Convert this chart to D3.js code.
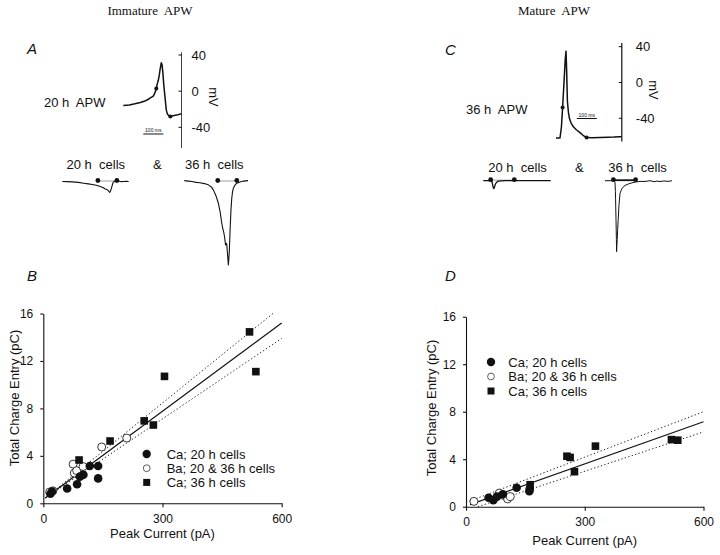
<!DOCTYPE html>
<html><head><meta charset="utf-8">
<script src="https://cdn.jsdelivr.net/npm/d3@7/dist/d3.min.js"></script>
<style>
html,body{margin:0;padding:0;background:#fff;}
svg{display:block;}
text{font-family:"Liberation Sans",Arial,Helvetica,sans-serif;fill:#111;white-space:pre;}
</style></head>
<body>
<svg id="fig" width="720" height="555"></svg>
<script>
// ---------------- DATA ----------------
const titles = ["Immature  APW", "Mature  APW"];
const panelLetters = ["A", "B", "C", "D"];
const voltTicks = [40, 0, -40];
const xTicks = [0, 300, 600];
const yTicks = [0, 4, 8, 12, 16];
const legendLabels = ["Ca; 20 h cells", "Ba; 20 & 36 h cells", "Ca; 36 h cells"];
const traceLabels = ["20 h  cells", "&", "36 h  cells"];
const xTitle = "Peak Current (pA)";
const yTitle = "Total Charge Entry (pC)";

// Action potential waveforms (time ms, mV)
const apImmature = [[0,-16],[30,-15.3],[58,-14],[85,-12.5],[108,-11],[125,-9],[135,-7.5],[150,-5.5],[158,-2],[165,3],[170,8],[175,12],[180,18],[185,25.6],[190,31.5],[194,29],[198,20],[202,8],[205,1],[210,-10],[215,-21],[220,-25],[225,-26.5],[235,-28],[245,-27.5],[255,-27],[265,-26.5],[275,-26],[290,-25]];
const apImmatureDots = [[165,3],[235,-28]];
const apMature = [[0,-62],[20,-62],[27,-50],[33,-28],[40,0],[46,25],[50,35],[53,15],[57,-21],[62,-33],[67,-40],[75,-45],[87,-49.5],[100,-52.5],[120,-56],[135,-59],[153,-61.5],[180,-61.8],[220,-61.5],[260,-61.2],[290,-61],[317,-60.6],[329,-60.5]];
const apMatureDots = [[33,-28],[153,-61.5]];

// Current traces (time ms, normalized current)
const curA20 = [[0,0],[25,-0.002],[50,-0.004],[80,-0.01],[107,-0.02],[130,-0.028],[150,-0.035],[170,-0.045],[190,-0.06],[205,-0.075],[215,-0.09],[225,-0.1],[232,-0.115],[237,-0.13],[240,-0.12],[243,-0.1],[248,-0.06],[252,-0.025],[256,-0.005],[265,0.004],[280,0.005],[295,-0.002],[305,0],[318,0.003],[332,0]];
const curA20Dots = [178, 273];
const curA36 = [[0,0.01],[20,0.005],[38,0],[60,-0.01],[78,-0.015],[100,-0.025],[120,-0.04],[135,-0.065],[145,-0.1],[158,-0.17],[170,-0.26],[180,-0.38],[187,-0.5],[193,-0.57],[198,-0.62],[203,-0.7],[206,-0.76],[209,-0.74],[212,-0.75],[216,-0.88],[220,-1.0],[223,-0.9],[225,-0.82],[228,-0.62],[231,-0.45],[233,-0.34],[237,-0.2],[241,-0.12],[245,-0.08],[252,-0.045],[262,-0.02],[278,-0.005],[295,0.005],[318,0.01]];
const curA36Dots = [167, 262];
const curC20 = [[0,0],[20,0],[37,0],[43,-0.01],[46,-0.05],[50,-0.1],[53,-0.11],[56,-0.09],[60,-0.05],[66,-0.025],[72,-0.01],[78,-0.005],[108,0],[155,0],[200,0.002],[250,0],[300,0.002],[337,0]];
const curC20Dots = [37, 155];
const curC36 = [[0,0],[20,0],[42,0],[50,-0.02],[52,-0.15],[53,-0.27],[55,-0.55],[57,-0.83],[58,-1.0],[59,-0.93],[61,-0.83],[63,-0.7],[66,-0.55],[70,-0.34],[75,-0.18],[83,-0.12],[92,-0.085],[105,-0.06],[117,-0.046],[135,-0.03],[150,-0.02],[175,-0.01],[200,-0.01],[225,0],[245,-0.015],[260,-0.005],[275,-0.012],[295,-0.003],[315,-0.01],[335,0]];
const curC36Dots = [42, 153];

// Scatter B (Immature APW): [peak current pA, total charge pC]
const bCa20 = [[18,0.8],[22,1.0],[60,1.25],[85,1.6],[92,2.25],[101,2.4],[117,3.15],[138,3.15],[138,2.1]];
const bBa = [[16,0.95],[24,1.05],[75,3.3],[78,2.55],[84,2.75],[100,3.1],[147,4.75],[210,5.5]];
const bCa36 = [[90,3.65],[168,5.25],[254,6.95],[277,6.6],[305,10.7],[519,14.45],[535,11.1]];
const bFitSolid = [[5,0.45],[600,15.2]];
const bFitUpper = [[5,0.45],[578,16]];
const bFitLower = [[5,0.45],[600,13.9]];

// Scatter D (Mature APW)
const dCa20 = [[57,0.75],[69,0.55],[78,0.85],[93,1.05],[128,1.6],[160,1.3],[161,1.5]];
const dBa = [[20,0.45],[84,1.15],[95,0.95],[105,0.65],[112,0.85]];
const dCa36 = [[162,1.85],[255,4.25],[263,4.15],[274,2.95],[327,5.1],[519,5.65],[535,5.6]];
const dFitSolid = [[10,0.17],[600,7.15]];
const dFitUpper = [[0,0.35],[600,8.0]];
const dFitLower = [[30,0.0],[600,6.3]];

// ---------------- DRAW ----------------
const svg = d3.select("#fig");
const ink = "#111";

// Titles
[[titles[0],150],[titles[1],554]].forEach(([t,x])=>{
  svg.append("text").attr("x", x).attr("y", 15).attr("text-anchor","middle")
    .style("font-family","'Liberation Serif','Times New Roman',serif").style("font-size","13px").text(t);
});

// Panel letters
const letterPos = [[27,54],[27,281],[445,55],[445,281]];
panelLetters.forEach((l,i)=>{
  svg.append("text").attr("x", letterPos[i][0]).attr("y", letterPos[i][1])
    .style("font-style","italic").style("font-size","15px").text(l);
});

// ---- Action potential panels ----
function apPanel(cfg){
  const x = d3.scaleLinear().domain(cfg.tDomain).range(cfg.xRange);
  const y = d3.scaleLinear().domain([-40,40]).range(cfg.yRange);
  const line = d3.line().x(d=>x(d[0])).y(d=>y(d[1]));
  svg.append("path").attr("d", line(cfg.data)).attr("fill","none")
    .attr("stroke", ink).attr("stroke-width", 1.5).attr("stroke-linejoin","round");
  svg.selectAll(null).data(cfg.dots).enter().append("circle")
    .attr("cx", d=>x(d[0])).attr("cy", d=>y(d[1])).attr("r", 2).attr("fill", ink);
  const g = svg.append("g").attr("transform", `translate(${cfg.axisX},0)`);
  g.append("line").attr("x1",0).attr("x2",0).attr("y1", y(cfg.axisTop)).attr("y2", y(cfg.axisBottom))
    .attr("stroke", ink).attr("stroke-width", cfg.axisW);
  voltTicks.forEach(v=>{
    g.append("line").attr("x1",-3).attr("x2",0).attr("y1",y(v)).attr("y2",y(v)).attr("stroke",ink).attr("stroke-width",1);
    g.append("text").attr("x", cfg.labelDx).attr("y", y(v)).attr("dy","0.35em")
      .style("font-size","13px").text(v);
  });
  svg.append("text").attr("transform", `translate(${cfg.mvX},${cfg.mvY}) rotate(90)`)
    .attr("text-anchor","middle").attr("dy","0.35em").style("font-size","13px").text("mV");
  svg.append("text").attr("x", cfg.labelX).attr("y", cfg.labelY).style("font-size","13px").text(cfg.label);
  const sb = cfg.scaleBar;
  svg.append("line").attr("x1", x(sb.t0)).attr("x2", x(sb.t0+100)).attr("y1", sb.y).attr("y2", sb.y)
    .attr("stroke", ink).attr("stroke-width", 1);
  svg.append("text").attr("x", (x(sb.t0)+x(sb.t0+100))/2).attr("y", sb.y-2).attr("text-anchor","middle")
    .style("font-size","5px").text("100 ms");
}

apPanel({data: apImmature, dots: apImmatureDots, tDomain:[0,290], xRange:[123.3,181.3], yRange:[127.3,55],
  axisX: 181.5, axisTop: 43, axisBottom: -63, axisW: 0.8, labelDx: 10, mvX: 214, mvY: 97,
  label: "20 h  APW", labelX: 44, labelY: 107, scaleBar: {t0: 100, y: 134}});
apPanel({data: apMature, dots: apMatureDots, tDomain:[0,329], xRange:[556,621.8], yRange:[118.3,46.7],
  axisX: 621.8, axisTop: 44, axisBottom: -66, axisW: 1.2, labelDx: 14, mvX: 654, mvY: 90,
  label: "36 h  APW", labelX: 466, labelY: 114, scaleBar: {t0: 104, y: 118.5}});

// ---- Current traces ----
function currentTrace(cfg){
  const x = d3.scaleLinear().domain([0, cfg.tMax]).range(cfg.xRange);
  const y = d3.scaleLinear().domain([-1, 0]).range(cfg.yRange);
  const line = d3.line().x(d=>x(d[0])).y(d=>y(d[1]));
  svg.append("line").attr("x1", x(cfg.dots[0])).attr("x2", x(cfg.dots[1]))
    .attr("y1", y(0)-0.5).attr("y2", y(0)-0.5)
    .attr("stroke", cfg.boldBase ? ink : "#888").attr("stroke-width", cfg.boldBase ? 1.8 : 0.8);
  svg.append("path").attr("d", line(cfg.data)).attr("fill","none").attr("stroke", ink)
    .attr("stroke-width", cfg.w || 1.1).attr("stroke-linejoin","round");
  svg.selectAll(null).data(cfg.dots).enter().append("circle")
    .attr("cx", d=>x(d)).attr("cy", y(0)-1).attr("r", 2.4).attr("fill", ink);
}
currentTrace({data: curA20, dots: curA20Dots, tMax: 332, xRange:[62.3,128.7], yRange:[265,181.5]});
currentTrace({data: curA36, dots: curA36Dots, tMax: 318, xRange:[184.3,248], yRange:[265,181.5]});
currentTrace({data: curC20, dots: curC20Dots, tMax: 337, xRange:[483.3,550.7], yRange:[251.7,180.7], w: 1.3});
currentTrace({data: curC36, dots: curC36Dots, tMax: 335, xRange:[605,672], yRange:[251.7,180.7], boldBase: true, w: 1});

// trace labels
function traceLabelRow(xs, yBase){
  traceLabels.forEach((t,i)=>{
    svg.append("text").attr("x", xs[i]).attr("y", yBase).style("font-size","13px").text(t);
  });
}
traceLabelRow([66.5, 153, 185], 168.5);
traceLabelRow([488.3, 575, 608.3], 171.5);

// ---- Scatter panels ----
function scatter(cfg){
  const x = d3.scaleLinear().domain([0,600]).range([cfg.left, cfg.right]);
  const y = d3.scaleLinear().domain([0,16]).range([cfg.bottom, cfg.top]);
  const g = svg.append("g");
  const xa = g.append("g").attr("transform",`translate(0,${cfg.bottom})`)
    .call(d3.axisBottom(x).tickValues(xTicks).tickSize(4).tickPadding(7).tickSizeOuter(0));
  const ya = g.append("g").attr("transform",`translate(${cfg.left},0)`)
    .call(d3.axisLeft(y).tickValues(yTicks).tickSize(3).tickPadding(7).tickSizeOuter(0));
  [xa,ya].forEach(a=>{
    a.selectAll("text").style("font-size","12px").style("font-family","'Liberation Sans',Arial,sans-serif").attr("fill",ink);
    a.selectAll("line,path").attr("stroke", ink).attr("stroke-width", 1.1);
  });
  const ln = d3.line().x(d=>x(d[0])).y(d=>y(d[1]));
  g.append("path").attr("d", ln(cfg.upper)).attr("stroke","#222").attr("stroke-width",1)
    .attr("stroke-dasharray","1.3,2.3").attr("fill","none");
  g.append("path").attr("d", ln(cfg.lower)).attr("stroke","#222").attr("stroke-width",1)
    .attr("stroke-dasharray","1.3,2.3").attr("fill","none");
  g.append("path").attr("d", ln(cfg.solid)).attr("stroke",ink).attr("stroke-width",1.2).attr("fill","none");
  g.selectAll(null).data(cfg.ba).enter().append("circle")
    .attr("cx", d=>x(d[0])).attr("cy", d=>y(d[1])).attr("r", 4)
    .attr("fill","#fff").attr("stroke", "#222").attr("stroke-width", 0.9);
  g.selectAll(null).data(cfg.ca20).enter().append("circle")
    .attr("cx", d=>x(d[0])).attr("cy", d=>y(d[1])).attr("r", 4.3).attr("fill", ink);
  g.selectAll(null).data(cfg.ca36).enter().append("rect")
    .attr("x", d=>x(d[0])-3.8).attr("y", d=>y(d[1])-3.8).attr("width",7.6).attr("height",7.6).attr("fill", ink);
  svg.append("text").attr("x", (cfg.left+cfg.right)/2).attr("y", cfg.xTitleY).attr("text-anchor","middle")
    .style("font-size","13px").text(xTitle);
  svg.append("text").attr("transform",`translate(${cfg.yTitleX},${cfg.yTitleY}) rotate(-90)`)
    .attr("text-anchor","middle").style("font-size","13px").text(yTitle);
  const L = cfg.legend;
  legendLabels.forEach((t,i)=>{
    const cy = L.y + i*L.dy;
    if(i===0) svg.append("circle").attr("cx",L.sx).attr("cy",cy).attr("r",4.2).attr("fill",ink);
    if(i===1) svg.append("circle").attr("cx",L.sx).attr("cy",cy).attr("r",3.4).attr("fill","#fff").attr("stroke","#333").attr("stroke-width",0.8);
    if(i===2) svg.append("rect").attr("x",L.sx-3.5).attr("y",cy-3.5).attr("width",7).attr("height",7).attr("fill",ink);
    svg.append("text").attr("x", L.tx).attr("y", cy).attr("dy","0.36em").style("font-size","13px").text(t);
  });
}

scatter({left:43.3, right:281.7, top:313.5, bottom:503.3, ca20:bCa20, ba:bBa, ca36:bCa36,
  solid:bFitSolid, upper:bFitUpper, lower:bFitLower, xTitleY:538, yTitleX:18.5, yTitleY:398,
  legend:{sx:146.7, tx:166.7, y:454, dy:14.2}});
scatter({left:466, right:703.5, top:316.7, bottom:506.7, ca20:dCa20, ba:dBa, ca36:dCa36,
  solid:dFitSolid, upper:dFitUpper, lower:dFitLower, xTitleY:545, yTitleX:436, yTitleY:408,
  legend:{sx:491, tx:508.3, y:362, dy:14.5}});
</script>
</body></html>
